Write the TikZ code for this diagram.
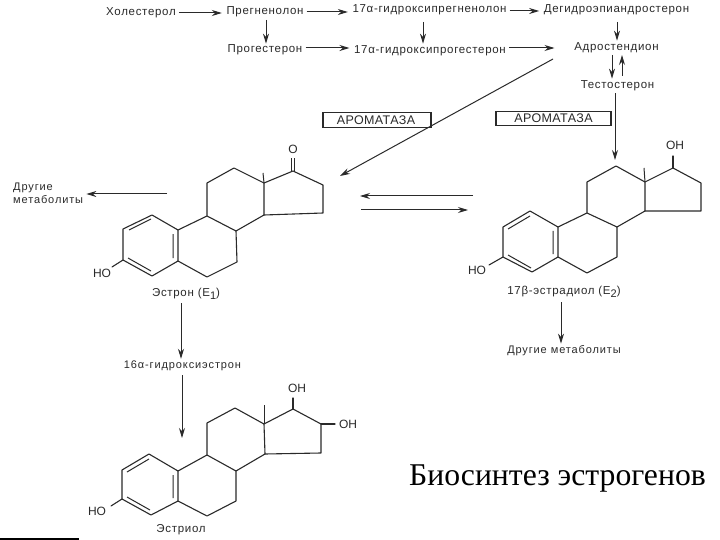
\documentclass[tikz,border=0pt]{standalone}
\usepackage{fontspec}
\setmainfont{Liberation Sans}
\newfontfamily\serifru{Liberation Serif}
\newfontfamily\lblfont[LetterSpace=6]{Liberation Sans}
\newfontfamily\smfont[LetterSpace=8]{Liberation Sans}
\newfontfamily\enzfont[LetterSpace=3]{Liberation Sans}
\usetikzlibrary{arrows.meta}
\definecolor{ink}{HTML}{2A2A2A}
\newcommand{\lowsub}[1]{\raisebox{-3pt}{\fontsize{11}{12}\selectfont #1}}
\tikzset{
  lbl/.style={text=ink,inner sep=1pt,font=\lblfont\fontsize{11.5}{13}\selectfont},
  lblsm/.style={text=ink,inner sep=1pt,font=\smfont\fontsize{11}{12}\selectfont},
  atom/.style={text=ink,inner sep=1pt,font=\fontsize{12}{13}\selectfont},
  arw/.style={draw=ink,line width=1pt,-{Stealth[length=10pt,width=6pt]}},
  gap/.style={shorten <=2pt,shorten >=3.5pt},
  bond/.style={draw=ink,line width=1.1pt,line join=round,line cap=round},
  thin bond/.style={draw=ink,line width=1pt},
  enz/.style={draw=ink,line width=1.1pt,inner sep=0pt,text=ink,minimum height=14.5pt,font=\enzfont\fontsize{12.5}{13}\selectfont}
}
\begin{document}
\begin{tikzpicture}[x=1pt,y=-1pt]
\useasboundingbox (0,0) rectangle (720,540);
\fill[white] (0,0) rectangle (720,540);
% top labels
\node[lbl] (chol) at (141,13) {Холестерол};
\node[lbl] (preg) at (265,12) {Прегненолон};
\node[lbl] (ohpreg) at (429.5,10) {17α-гидроксипрегненолон};
\node[lbl] (dhea) at (616.5,10) {Дегидроэпиандростерон};
\node[lbl] (prog) at (265,50) {Прогестерон};
\node[lbl] (ohprog) at (430,51) {17α-гидроксипрогестерон};
\node[lbl] (adro) at (616.5,48) {Адростендион};
\node[lbl] (test) at (617.5,86) {Тестостерон};
\coordinate (adroin) at (558,48);
\coordinate (adroout) at (553,59);
\coordinate (estin) at (340,176);
\coordinate (e2in) at (615,160);
\coordinate (a1) at (473,196);
\coordinate (a2) at (360,196);
\coordinate (b1) at (361,210);
\coordinate (b2) at (468,210);
\node[enz,minimum width=108pt] (arom1) at (377,120) {\hspace*{-2pt}АРОМАТАЗА};
\node[enz,minimum width=115pt] (arom2) at (553.5,118.5) {АРОМАТАЗА};
% labels
\node[lblsm,align=left,anchor=west] (oth1) at (12,193.5) {Другие\\[1pt]метаболиты};
\node[lbl] (e1) at (186,294) {Эстрон (E\lowsub{1})};
\node[lbl] (e2) at (564,292) {17β-эстрадиол (E\lowsub{2})};
\node[lblsm] (oth2) at (564,351) {Другие метаболиты};
\node[lblsm] (ohe1) at (182.5,366) {16α-гидроксиэстрон};
\node[lbl] (e3) at (181,530) {Эстриол};
\node[text=black,inner sep=0pt,font=\fontsize{31.7}{36}\selectfont\serifru,anchor=base] (title) at (557.5,485) {Биосинтез эстрогенов};
% arrows
\draw[arw,gap] (chol.east) -- (chol.east -| preg.west);
\draw[arw,gap] (preg.east) -- (preg.east -| ohpreg.west);
\draw[arw,gap] ([yshift=-1pt]ohpreg.east) -- ([yshift=-1pt]ohpreg.east -| dhea.west);
\draw[arw,gap] ([yshift=2pt]prog.east) -- ([yshift=2pt]prog.east -| ohprog.west);
\draw[arw,gap] ([yshift=3pt]ohprog.east) -- (adroin);
\draw[arw] (266,20) coordinate (pd) -- (pd |- prog.north);
\draw[arw] (423,22) coordinate (od) -- ([yshift=1pt]od |- ohprog.north);
\draw[arw] (617,22) coordinate (dd) -- ([yshift=1pt]dd |- adro.north);
\draw[arw] (612,55) coordinate (ad) -- ([yshift=1pt]ad |- test.north);
\draw[arw] (622,76) coordinate (au) -- (622,55);
\draw[arw] ([yshift=-1pt]test.south -| e2in) -- (e2in);
\draw[arw] (adroout) -- (estin);
\draw[arw] (a1) -- (a2);
\draw[arw] (b1) -- (b2);
\draw[arw] (167,194) coordinate (oth1s) -- ([xshift=2pt]oth1s -| oth1.east);
\draw[arw] (561,302) coordinate (e2d) -- ([yshift=1pt]e2d |- oth2.north);
\draw[arw] (181,303) coordinate (e1d) -- ([yshift=1pt]e1d |- ohe1.north);
\draw[arw] (182,375) coordinate (e3d) -- (182,438);
% estrone
\draw[bond] (152,215) -- (178,230) -- (178,261) -- (152,276) -- (123,260) -- (123,229) -- cycle;
\draw[thin bond] (129,230) -- (151,219) (173,234) -- (173,258) (128,258) -- (151,271);
\draw[bond] (178,230) -- (207,216) -- (236,231) -- (237,262) -- (207,277) -- (178,261);
\draw[bond] (207,216) -- (207,183) -- (234,168) -- (264,183) -- (264,215) -- (236,231);
\draw[bond] (264,183) -- (293,171) -- (323,185) -- (323,213) -- (264,215);
\draw[thin bond] (264,183) -- (263,173);
\draw[thin bond] (291.5,171) -- (291.5,158) (294.5,171) -- (294.5,158);
\draw[bond] (123,260) -- (112,267);
\node[atom] (e1o) at (293,149) {O};
\node[atom] (e1ho) at (102,273) {HO};
% estradiol
\draw[bond] (530,211) -- (558,227) -- (558,257) -- (532,272) -- (503,257) -- (503,227) -- cycle;
\draw[thin bond] (508,229) -- (530,216) (553,231) -- (553,254) (508,255) -- (531,268);
\draw[bond] (558,227) -- (587,213) -- (617,227) -- (617,257) -- (587,273) -- (558,257);
\draw[bond] (587,213) -- (587,182) -- (616,166) -- (645,182) -- (645,211) -- (617,227);
\draw[bond] (645,182) -- (673,168) -- (701,183) -- (701,211) -- (645,211);
\draw[thin bond] (645,182) -- (644,168);
\draw[bond] (673,168) -- (673,156);
\draw[bond] (503,257) -- (489,265);
\node[atom] (e2oh) at (675,145) {OH};
\node[atom] (e2ho) at (477,270) {HO};
% estriol
\draw[bond] (149,454) -- (178,471) -- (178,501) -- (151,515) -- (122,499) -- (122,470) -- cycle;
\draw[thin bond] (127,472) -- (149,459) (173,475) -- (173,498) (127,497) -- (150,510);
\draw[bond] (178,471) -- (207,455) -- (236,471) -- (236,501) -- (207,516) -- (178,501);
\draw[bond] (207,455) -- (207,423) -- (235,408) -- (264,424) -- (265,454) -- (236,471);
\draw[bond] (264,424) -- (293,409) -- (321,424) -- (321,453) -- (265,454);
\draw[thin bond] (264,424) -- (264,405);
\draw[bond] (293,409) -- (293,398);
\draw[bond] (321,424) -- (335,424);
\draw[bond] (122,499) -- (111,506);
\node[atom] (e3oh1) at (297,388) {OH};
\node[atom] (e3oh2) at (348,424) {OH};
\node[atom] (e3ho) at (97,511) {HO};
% corner mark
\fill[black] (0,538) rectangle (79,540);
\end{tikzpicture}
\end{document}
